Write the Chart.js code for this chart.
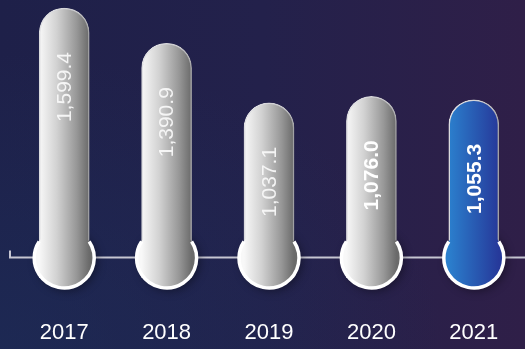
<!DOCTYPE html>
<html lang="en">
  <head>
    <meta charset="UTF-8" />
    <meta name="viewport" content="width=device-width, initial-scale=1.0" />
    <title>2017 - 2021</title>
    <script src="https://cdn.jsdelivr.net/npm/chart.js"></script>
    <style>
      html,
      body {
        margin: 0;
        padding: 0;
      }
      body {
        width: 525px;
        height: 349px;
        overflow: hidden;
        background: radial-gradient(ellipse at 0% 100%, rgba(28, 48, 92, 0.55), rgba(28, 48, 92, 0) 60%),
          linear-gradient(90deg, #1e2049 0%, #23214b 50%, #2f1f48 100%);
      }
      #chart-container {
        position: relative;
        width: 525px;
        height: 349px;
      }
    </style>
  </head>
  <body>
    <div id="chart-container">
      <canvas id="barChart"></canvas>
    </div>

    <script>
      const years = ["2017", "2018", "2019", "2020", "2021"];
      const amounts = [1599.4, 1390.9, 1037.1, 1076.0, 1055.3];
      const boldLabels = [false, false, false, true, true];
      const highlightIndex = 4;

      Chart.defaults.font.family = '"Liberation Sans", Arial, Helvetica, sans-serif';

      const BAR_WIDTH = 50;
      const FOOT_RADIUS = 30;

      function barGradient(ctx) {
        const chart = ctx.chart;
        if (!chart.chartArea) return "#bbbbbb";
        const x = chart.scales.x.getPixelForValue(ctx.dataIndex);
        const g = chart.ctx.createLinearGradient(x - BAR_WIDTH / 2, 0, x + BAR_WIDTH / 2, 0);
        if (ctx.dataIndex === highlightIndex) {
          g.addColorStop(0, "#2b7fcd");
          g.addColorStop(1, "#26399a");
        } else {
          g.addColorStop(0, "#f8f8f8");
          g.addColorStop(0.35, "#d2d2d2");
          g.addColorStop(0.75, "#979797");
          g.addColorStop(1, "#6a6a6a");
        }
        return g;
      }

      function footCircle(ctx, bar) {
        ctx.beginPath();
        ctx.arc(bar.x, bar.base - 20, FOOT_RADIUS, 0, Math.PI * 2);
      }

      // baseline, round feet under each bar and the rotated value labels
      const barDecor = {
        id: "barDecor",
        beforeDatasetsDraw(chart) {
          const ctx = chart.ctx;
          const bars = chart.getDatasetMeta(0).data;
          const y = bars[0].base - 20.5;
          ctx.save();
          ctx.strokeStyle = "#c6c6d2";
          ctx.lineWidth = 2;
          ctx.beginPath();
          ctx.moveTo(10, y - 7);
          ctx.lineTo(10, y);
          ctx.lineTo(chart.width, y);
          ctx.stroke();
          ctx.restore();

          // shadows of the feet go underneath the bars
          bars.forEach((bar) => {
            ctx.save();
            ctx.shadowColor = "rgba(0, 0, 0, 0.4)";
            ctx.shadowBlur = 10;
            ctx.shadowOffsetX = 3;
            ctx.shadowOffsetY = 3;
            ctx.fillStyle = bar.options.backgroundColor;
            footCircle(ctx, bar);
            ctx.fill();
            ctx.restore();
          });
        },
        beforeDatasetDraw(chart) {
          const ctx = chart.ctx;
          ctx.save();
          ctx.shadowColor = "rgba(0, 0, 0, 0.4)";
          ctx.shadowBlur = 14;
          ctx.shadowOffsetX = 6;
          ctx.shadowOffsetY = 3;
        },
        afterDatasetDraw(chart) {
          chart.ctx.restore();
        },
        afterDatasetsDraw(chart) {
          const ctx = chart.ctx;
          const bars = chart.getDatasetMeta(0).data;
          const open = Math.PI / 2 - Math.asin(BAR_WIDTH / 2 / FOOT_RADIUS);
          bars.forEach((bar, i) => {
            ctx.save();
            ctx.fillStyle = bar.options.backgroundColor;
            footCircle(ctx, bar);
            ctx.fill();

            ctx.strokeStyle = "#ffffff";
            ctx.lineWidth = 3.5;
            ctx.beginPath();
            ctx.arc(bar.x, bar.base - 20, FOOT_RADIUS, -open, Math.PI + open);
            ctx.stroke();
            ctx.restore();

            const text = amounts[i].toLocaleString("en-US", {
              minimumFractionDigits: 1,
              maximumFractionDigits: 1,
            });
            ctx.save();
            ctx.translate(bar.x + 1, bar.y + 79);
            ctx.rotate(-Math.PI / 2);
            ctx.font = (boldLabels[i] ? "bold " : "") + '21px "Liberation Sans", Arial, sans-serif';
            ctx.fillStyle = boldLabels[i] ? "#ffffff" : "rgba(250, 250, 250, 0.92)";
            ctx.textAlign = "center";
            ctx.textBaseline = "middle";
            ctx.fillText(text, 0, 0);
            ctx.restore();
          });
        },
      };

      new Chart(document.getElementById("barChart"), {
        type: "bar",
        data: {
          labels: years,
          datasets: [
            {
              data: amounts,
              backgroundColor: barGradient,
              borderColor: "rgba(255, 255, 255, 0.9)",
              borderWidth: 1.5,
              borderSkipped: "start",
              borderRadius: { topLeft: BAR_WIDTH / 2, topRight: BAR_WIDTH / 2 },
              barThickness: BAR_WIDTH,
            },
          ],
        },
        options: {
          responsive: true,
          maintainAspectRatio: false,
          animation: false,
          layout: { padding: { left: 13, right: 0, top: 0, bottom: 0 } },
          plugins: { legend: { display: false }, tooltip: { enabled: false } },
          scales: {
            x: {
              grid: { display: false, drawTicks: false },
              border: { display: false },
              ticks: { color: "#ffffff", font: { size: 22 }, padding: 42 },
              afterFit(scale) {
                scale.height = 71;
                scale.paddingLeft = 0;
                scale.paddingRight = 0;
              },
            },
            y: { display: false, min: 0, max: 1647 },
          },
        },
        plugins: [barDecor],
      });
    </script>
  </body>
</html>
